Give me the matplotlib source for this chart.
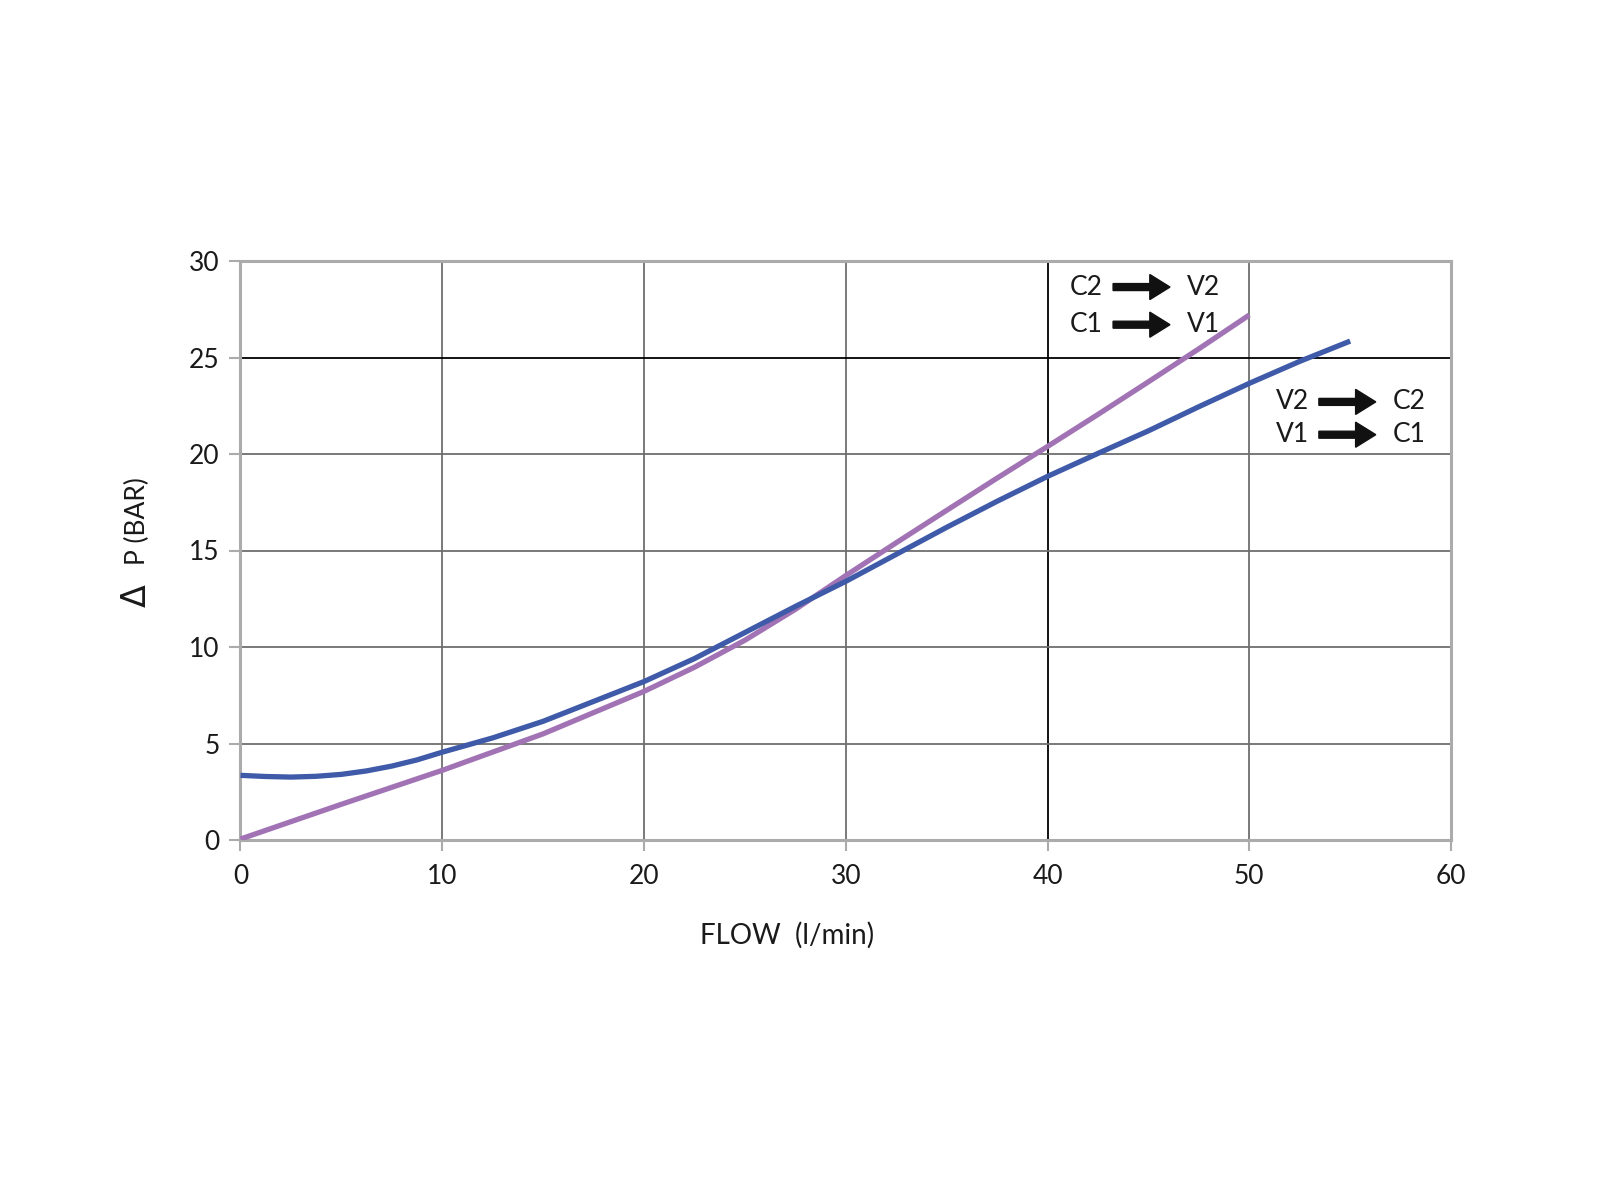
import matplotlib
matplotlib.use("Agg")
import matplotlib.pyplot as plt

# pressure drop curves
flow_vc = [0, 1.25, 2.5, 3.75, 5, 6.25, 7.5, 8.75, 10, 12.5, 15, 17.5, 20, 22.5, 25, 27.5, 30,
           32.5, 35, 37.5, 40, 42.5, 45, 47.5, 50, 52.5, 55]
dp_vc = [3.35, 3.29, 3.26, 3.3, 3.4, 3.58, 3.83, 4.15, 4.55, 5.29, 6.15, 7.18, 8.21, 9.4, 10.75,
         12.1, 13.4, 14.8, 16.2, 17.55, 18.84, 20.03, 21.2, 22.45, 23.66, 24.8, 25.85]

flow_cv = [0, 5, 10, 15, 20, 22.5, 25, 27.5, 30, 32.5, 35, 37.5, 40, 42.5, 45, 47.5, 50]
dp_cv = [0.05, 1.85, 3.61, 5.5, 7.7, 8.95, 10.35, 11.95, 13.7, 15.4, 17.08, 18.75, 20.39,
         22.05, 23.74, 25.45, 27.2]

x_ticks = [0, 10, 20, 30, 40, 50, 60]
y_ticks = [0, 5, 10, 15, 20, 25, 30]

labels_cv = ["C2", "V2", "C1", "V1"]
labels_vc = ["V2", "C2", "V1", "C1"]

BLUE = "#3E5AA8"
PURPLE = "#A273B4"
GRID = "#6E6E6E"
SPINE = "#ABABAB"
TXT = "#1a1a1a"

plt.rcParams["font.family"] = ["Lato", "DejaVu Sans"]

fig = plt.figure(figsize=(16, 12), dpi=100)
ax = fig.add_axes([0.1503, 0.3, 0.7566, 0.4825])

ax.set_xlim(0, 60)
ax.set_ylim(0, 30)
ax.set_xticks(x_ticks)
ax.set_yticks(y_ticks)

for x in x_ticks[1:-1]:
    ax.axvline(x, color="black" if x == 40 else GRID, lw=1.3, zorder=1)
for y in y_ticks[1:-1]:
    ax.axhline(y, color="black" if y == 25 else GRID, lw=1.3, zorder=1)

for s in ax.spines.values():
    s.set_color(SPINE)
    s.set_linewidth(2.2)

ax.tick_params(axis="both", length=8, width=1.5, color=SPINE, labelsize=19,
               labelcolor=TXT)
ax.tick_params(axis="x", pad=9)
ax.tick_params(axis="y", pad=7)

ax.plot(flow_cv, dp_cv, color=PURPLE, lw=3.8, zorder=3, solid_capstyle="butt")
ax.plot(flow_vc, dp_vc, color=BLUE, lw=3.8, zorder=4, solid_capstyle="butt")


def flow_label(x0, y0, left, right):
    ax.text(x0, y0, left, fontsize=19, va="center", ha="left", color=TXT, zorder=5)
    ax.arrow(x0 + 2.15, y0, 2.82, 0, width=0.36, head_width=1.3, head_length=1.0,
             length_includes_head=True, color="#111111", zorder=5)
    ax.text(x0 + 5.8, y0, right, fontsize=19, va="center", ha="left", color=TXT, zorder=5)


flow_label(41.1, 28.65, labels_cv[0], labels_cv[1])
flow_label(41.1, 26.7, labels_cv[2], labels_cv[3])
flow_label(51.3, 22.7, labels_vc[0], labels_vc[1])
flow_label(51.3, 21.0, labels_vc[2], labels_vc[3])

fig.text(0.492, 0.221, "FLOW  (l/min)", fontsize=20, ha="center", va="center", color=TXT)
fig.text(0.086, 0.566, "P (BAR)", fontsize=19, ha="center", va="center",
         rotation=90, color=TXT)
fig.text(0.085, 0.504, "\u0394", fontsize=24, ha="center", va="center",
         rotation=90, color=TXT, family="DejaVu Sans")

fig.savefig("out.png", dpi=100, facecolor="white")
